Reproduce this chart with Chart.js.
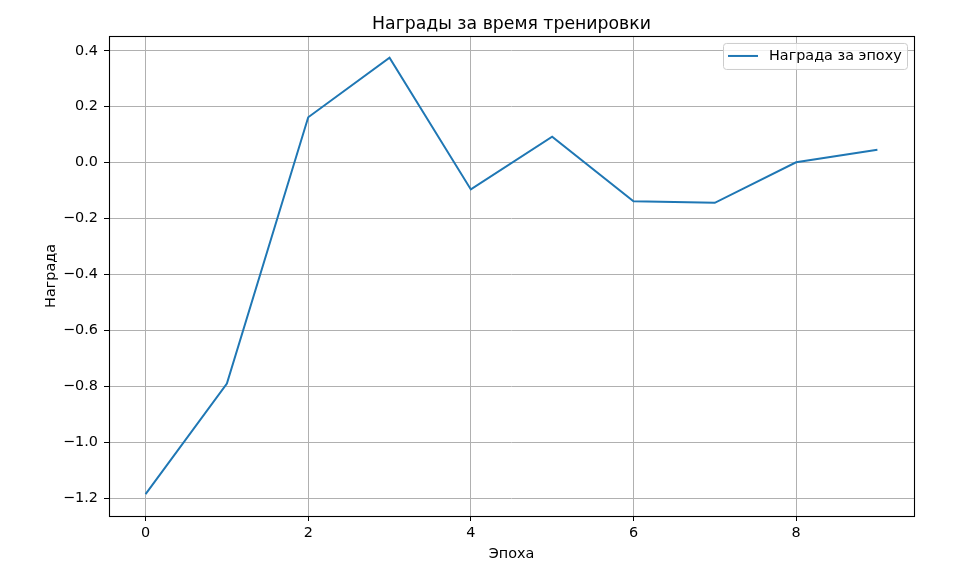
<!DOCTYPE html>
<html>
<head>
<meta charset="utf-8">
<script src="https://cdn.jsdelivr.net/npm/chart.js@4.4.0/dist/chart.umd.min.js"></script>
<style>
html,body{margin:0;padding:0;background:#fff;}
#wrap{width:974px;height:568px;}
</style>
</head>
<body>
<div id="wrap"><canvas id="c" width="974" height="568"></canvas></div>
<script>
const epochs = [0, 1, 2, 3, 4, 5, 6, 7, 8, 9];
const rewards = [-1.186, -0.790, 0.162, 0.375, -0.096, 0.093, -0.138, -0.144, 0.001, 0.046];
const xTicks = [0, 2, 4, 6, 8];
const yTicks = [-1.2, -1.0, -0.8, -0.6, -0.4, -0.2, 0.0, 0.2, 0.4];
const seriesLabel = 'Награда за эпоху';
const titleText = 'Награды за время тренировки';
const xLabel = 'Эпоха';
const yLabel = 'Награда';

const FONT = "'DejaVu Sans', sans-serif";
const LINE = '#1f77b4';
const FS = 14.4;

const framePlugin = {
  id: 'frame',
  afterDraw(chart) {
    const ctx = chart.ctx, a = chart.chartArea;
    ctx.save();
    ctx.strokeStyle = '#000';
    ctx.lineWidth = 1.1;
    ctx.strokeRect(Math.round(a.left) + 0.5, Math.round(a.top) + 0.5, Math.round(a.right - a.left), Math.round(a.bottom - a.top));
    // legend
    const bw = 184, bh = 26;
    const bx = a.right - 7 - bw, by = a.top + 7;
    ctx.globalAlpha = 0.8;
    ctx.fillStyle = '#fff';
    ctx.beginPath();
    ctx.roundRect(bx, by, bw, bh, 3);
    ctx.fill();
    ctx.globalAlpha = 1;
    ctx.strokeStyle = '#cccccc';
    ctx.lineWidth = 1;
    ctx.beginPath();
    ctx.roundRect(bx + 0.5, by + 0.5, bw, bh, 3);
    ctx.stroke();
    ctx.strokeStyle = LINE;
    ctx.lineWidth = 2;
    ctx.beginPath();
    ctx.moveTo(bx + 5, by + 13);
    ctx.lineTo(bx + 35, by + 13);
    ctx.stroke();
    ctx.fillStyle = '#000';
    ctx.font = FS + "px " + FONT;
    ctx.textBaseline = 'middle';
    ctx.textAlign = 'left';
    ctx.fillText(seriesLabel, bx + 46, by + 13.5);
    ctx.restore();
  }
};

const fmt = v => {
  const s = Number(v).toFixed(1);
  return s.replace('-', '\u2212');
};

new Chart(document.getElementById('c'), {
  type: 'line',
  data: {
    datasets: [{
      label: seriesLabel,
      data: epochs.map((e, i) => ({x: e, y: rewards[i]})),
      borderColor: LINE,
      backgroundColor: LINE,
      borderWidth: 2,
      pointRadius: 0,
      tension: 0,
      fill: false
    }]
  },
  options: {
    responsive: false,
    animation: false,
    devicePixelRatio: 1,
    layout: {padding: {left: 0, right: 60, top: 0, bottom: 0}},
    plugins: {
      legend: {display: false},
      tooltip: {enabled: false},
      title: {
        display: true,
        fullSize: false,
        text: titleText,
        color: '#000',
        font: {family: FONT, size: 17.3, weight: 'normal'},
        padding: {top: 14, bottom: 1.2}
      }
    },
    scales: {
      x: {
        type: 'linear',
        min: -0.45,
        max: 9.45,
        afterBuildTicks: s => { s.ticks = xTicks.map(v => ({value: v})); },
        afterFit: s => { s.height = 52; },
        ticks: {
          color: '#000',
          font: {family: FONT, size: FS},
          padding: 4,
          maxRotation: 0,
          autoSkip: false,
          callback: v => String(v)
        },
        grid: {color: '#b0b0b0', lineWidth: 1, drawTicks: true, tickLength: 5, tickColor: '#000', tickWidth: 1},
        border: {display: false},
        title: {
          display: true,
          text: xLabel,
          color: '#000',
          font: {family: FONT, size: FS},
          padding: {top: 0, bottom: 5}
        }
      },
      y: {
        type: 'linear',
        min: -1.264,
        max: 0.453,
        afterBuildTicks: s => { s.ticks = yTicks.map(v => ({value: v})); },
        afterFit: s => { s.width = 109; },
        ticks: {
          color: '#000',
          font: {family: FONT, size: FS},
          padding: 6,
          autoSkip: false,
          callback: v => fmt(v)
        },
        grid: {color: '#b0b0b0', lineWidth: 1, drawTicks: true, tickLength: 5, tickColor: '#000', tickWidth: 1},
        border: {display: false},
        title: {
          display: true,
          text: yLabel,
          color: '#000',
          font: {family: FONT, size: FS},
          padding: {top: 43, bottom: 0}
        }
      }
    }
  },
  plugins: [framePlugin]
});
</script>
</body>
</html>
